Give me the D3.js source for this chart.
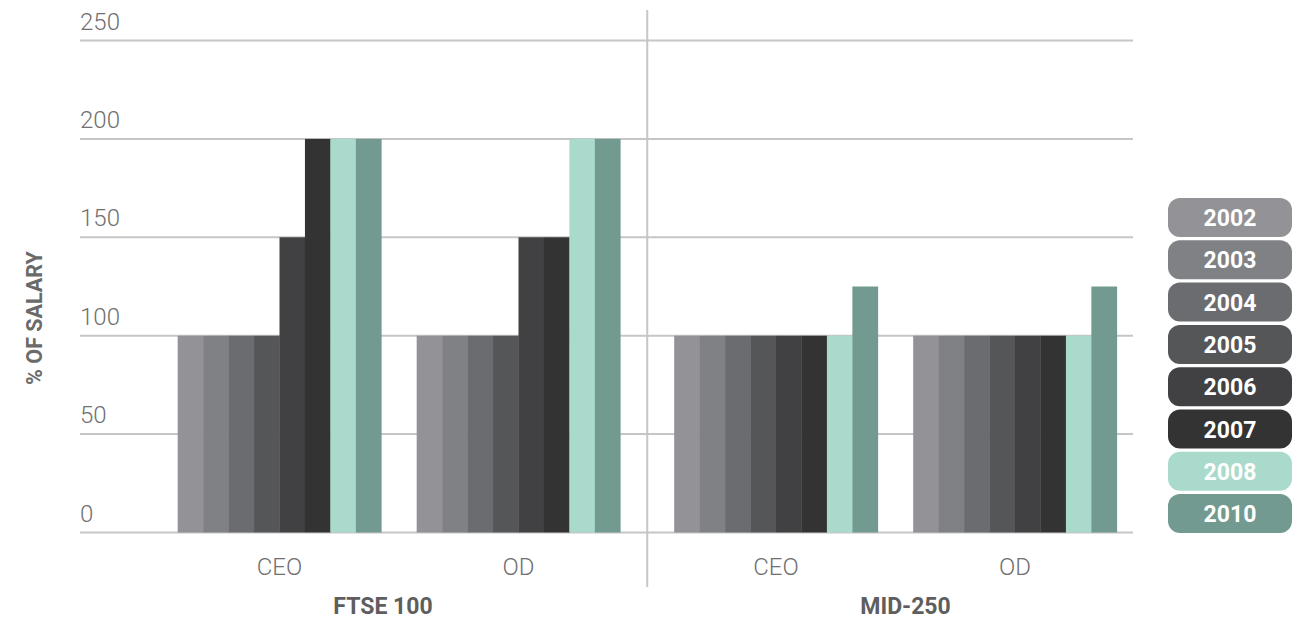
<!DOCTYPE html>
<html>
<head>
<meta charset="utf-8">
<script src="https://cdn.jsdelivr.net/npm/d3@7"></script>
<style>
  html, body { margin: 0; padding: 0; background: #fff; }
  svg { display: block; font-family: Roboto, "Liberation Sans", sans-serif; }
</style>
</head>
<body>
<svg id="chart" width="1309" height="619"></svg>
<script>
// Indices and roles
const panels = ["FTSE 100", "MID-250"];
const roles = ["CEO", "OD"];
const years = ["2002", "2003", "2004", "2005", "2006", "2007", "2008", "2010"];
const yearColors = ["#939397", "#808185", "#6b6c70", "#555658", "#414143", "#333333", "#aadacb", "#739a90"];
const yTicks = [0, 50, 100, 150, 200, 250];

// Maximum award, % of salary, by year
const ftseCEO = [100, 100, 100, 100, 150, 200, 200, 200];
const ftseOD  = [100, 100, 100, 100, 150, 150, 200, 200];
const midCEO  = [100, 100, 100, 100, 100, 100, 100, 125];
const midOD   = [100, 100, 100, 100, 100, 100, 100, 125];

const table = [
  { panel: "FTSE 100", role: "CEO", values: ftseCEO },
  { panel: "FTSE 100", role: "OD",  values: ftseOD },
  { panel: "MID-250",  role: "CEO", values: midCEO },
  { panel: "MID-250",  role: "OD",  values: midOD }
];

const svg = d3.select("#chart");
const gridLeft = 80, gridRight = 1133;

const y = d3.scaleLinear().domain([0, 250]).range([532.5, 40.5]);
const xPanel = d3.scaleBand().domain(panels).range([160, 1134.5]).paddingInner(0.0373).paddingOuter(0);
const xRole = d3.scaleBand().domain(roles).range([0, xPanel.bandwidth()]).paddingInner(0.148).paddingOuter(0.074);
const xYear = d3.scaleBand().domain(years).range([0, xRole.bandwidth()]).padding(0);
const color = d3.scaleOrdinal().domain(years).range(yearColors);

// Horizontal gridlines with labels sitting above each line
const grid = svg.append("g");
grid.selectAll("line").data(yTicks).join("line")
  .attr("x1", gridLeft).attr("x2", gridRight)
  .attr("y1", d => y(d)).attr("y2", d => y(d))
  .attr("stroke", "#c6c6c6").attr("stroke-width", 2);
grid.selectAll("text").data(yTicks).join("text")
  .attr("x", gridLeft).attr("y", d => y(d) - 11)
  .attr("font-size", 24).attr("font-weight", 300).attr("fill", "#707070")
  .text(d => d);

// Divider between the two indices
const dividerX = (xPanel("FTSE 100") + xPanel.bandwidth() + xPanel("MID-250")) / 2;
svg.append("line")
  .attr("x1", dividerX).attr("x2", dividerX).attr("y1", 10).attr("y2", 587)
  .attr("stroke", "#c6c6c6").attr("stroke-width", 2);

// Bars
const groups = svg.append("g").selectAll("g").data(table).join("g")
  .attr("transform", d => `translate(${xPanel(d.panel) + xRole(d.role)},0)`);
groups.selectAll("rect").data(d => d.values.map((v, i) => ({ year: years[i], value: v }))).join("rect")
  .attr("x", d => xYear(d.year))
  .attr("width", xYear.bandwidth() + 0.3)
  .attr("y", d => y(d.value))
  .attr("height", d => y(0) - y(d.value))
  .attr("fill", d => color(d.year));

// Role labels
groups.append("text")
  .attr("x", xRole.bandwidth() / 2).attr("y", 575)
  .attr("text-anchor", "middle")
  .attr("font-size", 24).attr("font-weight", 300).attr("fill", "#707070")
  .text(d => d.role);

// Index labels, nudged off the panel centre
const panelLabelShift = { "FTSE 100": -16, "MID-250": 10 };
svg.append("g").selectAll("text").data(panels).join("text")
  .attr("x", d => xPanel(d) + xPanel.bandwidth() / 2 + panelLabelShift[d])
  .attr("y", 614)
  .attr("text-anchor", "middle")
  .attr("font-size", 23).attr("font-weight", 700).attr("fill", "#5e5e5e")
  .text(d => d);

// Axis title
svg.append("text")
  .attr("transform", "translate(42,318) rotate(-90)")
  .attr("text-anchor", "middle")
  .attr("font-size", 21.5).attr("font-weight", 700).attr("fill", "#6a6a6a")
  .text("% OF SALARY");

// Legend
const legend = svg.append("g").selectAll("g").data(years).join("g")
  .attr("transform", (d, i) => `translate(1168,${198 + i * 42.3})`);
legend.append("rect")
  .attr("width", 124).attr("height", 39).attr("rx", 12).attr("ry", 12)
  .attr("fill", d => color(d));
legend.append("text")
  .attr("x", 62).attr("y", 28)
  .attr("text-anchor", "middle")
  .attr("font-size", 23).attr("font-weight", 700).attr("fill", "#fff")
  .text(d => d);
</script>
</body>
</html>
